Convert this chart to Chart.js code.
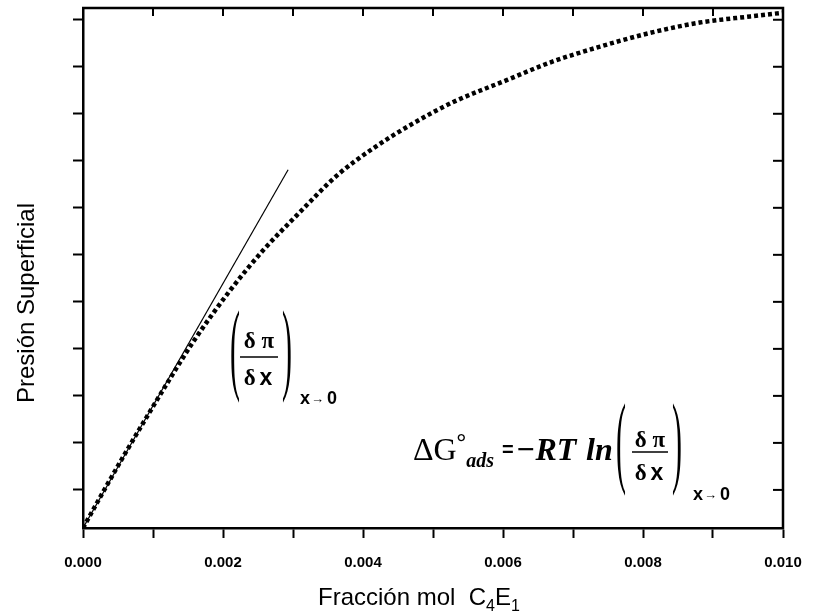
<!DOCTYPE html>
<html><head><meta charset="utf-8">
<script src="https://cdn.jsdelivr.net/npm/chart.js@4.4.0/dist/chart.umd.min.js"></script>
<style>html,body{margin:0;padding:0;background:#fff}#wrap{width:814px;height:615px}</style>
</head><body><div id="wrap"><canvas id="c" width="814" height="615"></canvas></div>
<script>
// Data (x = fracción mol, y = presión superficial, arbitrary units)
const fracX   = [0, 0.0003, 0.0006, 0.00091, 0.00124, 0.00157, 0.0021, 0.00257, 0.00306, 0.00363, 0.00414, 0.00471, 0.00529, 0.00606, 0.00667, 0.00739, 0.0081, 0.00881, 0.00953, 0.01];
const presion = [0, 0.8, 1.58, 2.36, 3.17, 3.95, 5.05, 5.9, 6.66, 7.5, 8.07, 8.6, 9.06, 9.53, 9.9, 10.24, 10.53, 10.75, 10.88, 10.96];
const tangentX = [0, 0.00293];
const tangentY = [0, 7.62];
const xTickValues = [0, 0.001, 0.002, 0.003, 0.004, 0.005, 0.006, 0.007, 0.008, 0.009, 0.01];
const xTickLabels = ['0.000', '', '0.002', '', '0.004', '', '0.006', '', '0.008', '', '0.010'];
const yTickValues = [0.81, 1.81, 2.81, 3.81, 4.81, 5.81, 6.81, 7.81, 8.81, 9.81, 10.81];
const yMax = 11.06;

const SANS = '"Liberation Sans", Arial, sans-serif';
const SERIF = '"Liberation Serif", "Times New Roman", serif';

function txt(ctx, s, x, y, font, align, base) {
  ctx.font = font; ctx.textAlign = align || 'left'; ctx.textBaseline = base || 'alphabetic';
  ctx.fillText(s, x, y); return ctx.measureText(s).width;
}
function wid(ctx, s, font) { ctx.font = font; return ctx.measureText(s).width; }
function paren(ctx, ch, x, yc, h) {
  ctx.save();
  ctx.font = '30px ' + SERIF; ctx.textAlign = 'center'; ctx.textBaseline = 'middle';
  const m = ctx.measureText(ch);
  const gh = m.actualBoundingBoxAscent + m.actualBoundingBoxDescent;
  const s = h / gh;
  ctx.translate(x, yc); ctx.scale(1, s);
  ctx.fillText(ch, 0, (m.actualBoundingBoxAscent - m.actualBoundingBoxDescent) / 2);
  ctx.restore();
}
function fraction(ctx, cx, numBase, lineY, denBase, lineHalf) {
  const fSer = 'bold 23px ' + SERIF, fSan = 'bold 23px ' + SANS;
  txt(ctx, 'δ π', cx, numBase, fSer, 'center');
  ctx.beginPath(); ctx.lineWidth = 1.5; ctx.moveTo(cx - lineHalf, lineY); ctx.lineTo(cx + lineHalf, lineY); ctx.stroke();
  const w1 = wid(ctx, 'δ ', fSer), w2 = wid(ctx, 'x', fSan);
  const sx = cx - (w1 + w2) / 2;
  txt(ctx, 'δ ', sx, denBase, fSer); txt(ctx, 'x', sx + w1 - 2, denBase, fSan);
}
function limit(ctx, x, base) {
  const f = 'bold 18px ' + SANS;
  let w = txt(ctx, 'x', x, base, f);
  txt(ctx, '→', x + w + 1, base - 1, 'bold 13px ' + SANS);
  txt(ctx, '0', x + w + 17, base, f);
}

const framePlugin = {
  id: 'frame',
  afterDraw(chart) {
    const ctx = chart.ctx, a = chart.chartArea, xs = chart.scales.x, ys = chart.scales.y;
    ctx.save();
    ctx.strokeStyle = '#000'; ctx.fillStyle = '#000';
    ctx.lineWidth = 2.5;
    ctx.beginPath(); ctx.moveTo(a.left - 1, a.top); ctx.lineTo(a.right, a.top); ctx.lineTo(a.right, a.bottom + 1); ctx.stroke();
    ctx.lineWidth = 2;
    xTickValues.forEach(v => { const p = xs.getPixelForValue(v); ctx.beginPath(); ctx.moveTo(p, a.top); ctx.lineTo(p, a.top + 8); ctx.stroke(); });
    yTickValues.forEach(v => { const p = ys.getPixelForValue(v); ctx.beginPath(); ctx.moveTo(a.right - 10, p); ctx.lineTo(a.right, p); ctx.stroke(); });

    // axis titles
    ctx.save(); ctx.translate(27, 303); ctx.rotate(-Math.PI / 2);
    txt(ctx, 'Presión Superficial', 0, 0, '24px ' + SANS, 'center', 'middle');
    ctx.restore();
    const fT = '24px ' + SANS, fS = '16px ' + SANS;
    let x = 318, b = 605;
    x += txt(ctx, 'Fracción mol  C', x, b, fT);
    x += txt(ctx, '4', x, b + 6, fS);
    x += txt(ctx, 'E', x, b, fT);
    txt(ctx, '1', x, b + 6, fS);

    // formula 1
    paren(ctx, '(', 235, 357, 95);
    fraction(ctx, 259, 348, 357, 385, 19);
    paren(ctx, ')', 287, 357, 95);
    limit(ctx, 300, 404);

    // formula 2
    const fBig = '32px ' + SERIF, fDeg = 'bold 24px ' + SERIF, fSub = 'bold italic 20px ' + SERIF;
    const wDG = wid(ctx, 'ΔG', fBig), wDeg = wid(ctx, '°', fDeg), wAds = wid(ctx, 'ads', fSub);
    let sx = 494 - (wDG + wDeg + wAds);
    txt(ctx, 'ΔG', sx, 460, fBig);
    txt(ctx, '°', sx + wDG, 450, fDeg);
    txt(ctx, 'ads', sx + wDG + wDeg, 467, fSub);
    txt(ctx, '=', 502, 456, 'bold 20px ' + SANS);
    txt(ctx, '−RT', 516, 460, 'bold italic 32px ' + SERIF);
    txt(ctx, 'ln', 586, 460, 'bold italic 32px ' + SERIF);
    paren(ctx, '(', 621, 450, 95);
    fraction(ctx, 650, 447, 452, 480, 18);
    paren(ctx, ')', 677, 450, 95);
    limit(ctx, 693, 500);
    ctx.restore();
  }
};

new Chart(document.getElementById('c'), {
  type: 'scatter',
  data: {
    datasets: [
      { data: fracX.map((v, i) => ({ x: v, y: presion[i] })), showLine: true, borderColor: '#000', borderWidth: 4.5,
        borderDash: [4, 3], pointRadius: 0, tension: 0.4, cubicInterpolationMode: 'monotone', fill: false },
      { data: tangentX.map((v, i) => ({ x: v, y: tangentY[i] })), showLine: true, borderColor: '#000', borderWidth: 1.2,
        pointRadius: 0, fill: false }
    ]
  },
  options: {
    responsive: false, animation: false, devicePixelRatio: 1,
    layout: { padding: { top: 8, right: 31, left: 0, bottom: 0 } },
    plugins: { legend: { display: false }, tooltip: { enabled: false } },
    scales: {
      x: {
        type: 'linear', min: 0, max: 0.01,
        afterFit(s) { s.height = 87; s.paddingLeft = 0; s.paddingRight = 0; },
        afterBuildTicks(s) { s.ticks = xTickValues.map(v => ({ value: v })); },
        ticks: { autoSkip: false, maxRotation: 0, color: '#000', padding: 16,
          font: { family: 'Liberation Sans', weight: 'bold', size: 15 },
          callback: (v, i) => xTickLabels[i] },
        grid: { drawOnChartArea: false, drawTicks: true, tickLength: 10, tickWidth: 2, color: '#000' },
        border: { display: true, width: 2.5, color: '#000' }
      },
      y: {
        type: 'linear', min: 0, max: yMax,
        afterFit(s) { s.width = 83; },
        afterBuildTicks(s) { s.ticks = yTickValues.map(v => ({ value: v })); },
        ticks: { display: true, callback: () => '', padding: 0 },
        grid: { drawOnChartArea: false, drawTicks: true, tickLength: 10, tickWidth: 2, color: '#000' },
        border: { display: true, width: 2.5, color: '#000' }
      }
    }
  },
  plugins: [framePlugin]
});
</script></body></html>
